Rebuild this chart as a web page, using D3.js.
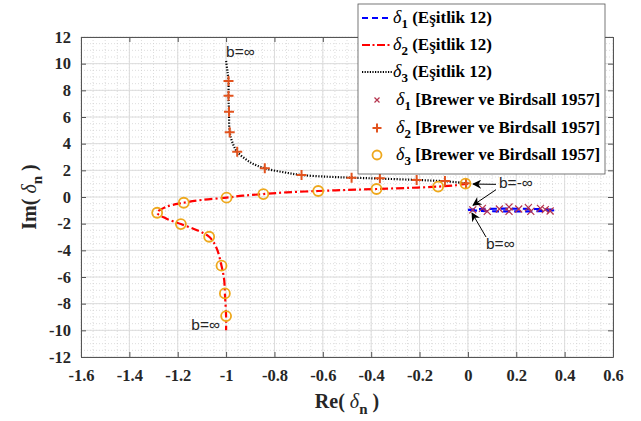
<!DOCTYPE html>
<html><head><meta charset="utf-8">
<script src="https://cdn.jsdelivr.net/npm/d3@7"></script>
<style>body{margin:0;background:#fff}svg{display:block}</style>
</head><body><svg id="c" width="641" height="421"></svg>
<script>
// ---- data ----
const xTicks = [-1.6,-1.4,-1.2,-1,-0.8,-0.6,-0.4,-0.2,0,0.2,0.4,0.6];
const yTicks = [-12,-10,-8,-6,-4,-2,0,2,4,6,8,10,12];
// delta1 (Eşitlik 12) - blue dashed narrow loop
const d1Line = [[0,-0.97],[0.05,-0.9],[0.12,-0.88],[0.2,-0.88],[0.28,-0.9],[0.36,-0.98],[0.3,-1.06],[0.2,-1.08],[0.1,-1.07],[0.03,-1.02],[0,-0.97]];
// delta2 (Eşitlik 12) - red dash-dot
const d2Line = [[0,1.0],[-0.05,0.88],[-0.123,0.78],[-0.25,0.68],[-0.378,0.6],[-0.5,0.53],[-0.619,0.45],[-0.75,0.35],[-0.846,0.22],[-0.93,0.1],[-0.998,-0.05],[-1.1,-0.22],[-1.175,-0.43],[-1.25,-0.75],[-1.285,-1.18],[-1.25,-1.6],[-1.187,-2.03],[-1.12,-2.5],[-1.07,-2.98],[-1.04,-3.8],[-1.019,-5.15],[-1.008,-6.2],[-1.005,-7.23],[-1.0,-8.93],[-1.0,-10.0]];
// delta3 (Eşitlik 12) - black dotted
const d3Line = [[-1.0,10.2],[-0.995,9.5],[-0.99,8.7],[-0.99,7.6],[-0.988,6.4],[-0.985,4.85],[-0.972,4.0],[-0.954,3.4],[-0.9,2.6],[-0.84,2.15],[-0.76,1.85],[-0.688,1.65],[-0.58,1.52],[-0.481,1.45],[-0.364,1.38],[-0.212,1.28],[-0.095,1.18],[-0.008,1.03]];
// Brewer ve Birdsall 1957 points
const d1Pts = [[0.02,-0.97],[0.06,-0.85],[0.08,-1.08],[0.13,-0.9],[0.17,-0.75],[0.17,-1.08],[0.21,-0.9],[0.25,-0.8],[0.26,-1.08],[0.3,-0.85],[0.32,-0.95],[0.34,-1.05]];
const d2Pts = [[-0.99,8.7],[-0.99,7.6],[-0.988,6.4],[-0.985,4.85],[-0.954,3.4],[-0.84,2.15],[-0.688,1.65],[-0.481,1.45],[-0.364,1.4],[-0.212,1.28],[-0.095,1.2],[-0.008,1.03]];
const d3Pts = [[-0.01,1.0],[-0.123,0.78],[-0.378,0.6],[-0.619,0.45],[-0.846,0.22],[-0.998,-0.05],[-1.175,-0.43],[-1.285,-1.18],[-1.187,-2.03],[-1.07,-2.98],[-1.019,-5.15],[-1.005,-7.23],[-1.0,-8.93]];
const legendLabels = [
  {sym:"1", txt:" (Eşitlik 12)"},{sym:"2", txt:" (Eşitlik 12)"},{sym:"3", txt:" (Eşitlik 12)"},
  {sym:"1", txt:" [Brewer ve Birdsall 1957]"},{sym:"2", txt:" [Brewer ve Birdsall 1957]"},{sym:"3", txt:" [Brewer ve Birdsall 1957]"}];

// ---- layout ----
const svg = d3.select("#c");
const L=81, R=613, T=37, B=357;
const x = d3.scaleLinear().domain([-1.6,0.6]).range([L,R]);
const y = d3.scaleLinear().domain([-12,12]).range([B,T]);
const serif = "'Liberation Serif','Times New Roman',serif";
const sans = "'Liberation Sans',Arial,sans-serif";

// minor grid
const xMinor = d3.range(-1.6,0.6001,0.05).map(v=>+v.toFixed(3));
const yMinor = d3.range(-12,12.001,0.5);
const g = svg.append("g");
g.selectAll(".mx").data(xMinor).join("line").attr("x1",d=>x(d)).attr("x2",d=>x(d)).attr("y1",T).attr("y2",B)
 .attr("stroke","#cfcfcf").attr("stroke-width",0.7).attr("stroke-dasharray","1,2");
g.selectAll(".my").data(yMinor).join("line").attr("y1",d=>y(d)).attr("y2",d=>y(d)).attr("x1",L).attr("x2",R)
 .attr("stroke","#cfcfcf").attr("stroke-width",0.7).attr("stroke-dasharray","1,2");
// major grid
g.selectAll(".gx").data(xTicks).join("line").attr("x1",d=>x(d)).attr("x2",d=>x(d)).attr("y1",T).attr("y2",B)
 .attr("stroke","#dcdcdc").attr("stroke-width",1);
g.selectAll(".gy").data(yTicks).join("line").attr("y1",d=>y(d)).attr("y2",d=>y(d)).attr("x1",L).attr("x2",R)
 .attr("stroke","#dcdcdc").attr("stroke-width",1);

// axes
const fmt = v => String(+v.toFixed(1));
const ax = svg.append("g").attr("transform",`translate(0,${B})`).call(d3.axisBottom(x).tickValues(xTicks).tickFormat(fmt).tickSizeInner(-5).tickSizeOuter(0).tickPadding(9));
const ay = svg.append("g").attr("transform",`translate(${L},0)`).call(d3.axisLeft(y).tickValues(yTicks).tickFormat(fmt).tickSizeInner(-5).tickSizeOuter(0).tickPadding(9));
svg.append("g").attr("transform",`translate(0,${T})`).call(d3.axisTop(x).tickValues(xTicks).tickFormat("").tickSizeInner(-5).tickSizeOuter(0));
svg.append("g").attr("transform",`translate(${R},0)`).call(d3.axisRight(y).tickValues(yTicks).tickFormat("").tickSizeInner(-5).tickSizeOuter(0));
svg.selectAll(".domain").attr("stroke","#555");
svg.selectAll(".tick line").attr("stroke","#555");
svg.selectAll(".tick text").attr("font-family",serif).attr("font-weight","bold").attr("font-size",16.5).attr("fill","#262626");
ax.selectAll(".tick text").attr("dy","0.9em");
ay.selectAll(".tick text").attr("dx","-1");

// axis labels
const xl = svg.append("text").attr("x",(L+R)/2).attr("y",408).attr("text-anchor","middle")
  .attr("font-family",serif).attr("font-weight","bold").attr("font-size",20).attr("fill","#262626");
xl.append("tspan").text("Re( ");
xl.append("tspan").attr("font-style","italic").attr("font-weight","normal").text("δ");
xl.append("tspan").attr("font-size",15).attr("dy",6).text("n");
xl.append("tspan").attr("dy",-6).text(" )");
const yl = svg.append("text").attr("transform",`translate(36,${(T+B)/2}) rotate(-90)`).attr("text-anchor","middle")
  .attr("font-family",serif).attr("font-weight","bold").attr("font-size",20).attr("fill","#262626");
yl.append("tspan").text("Im( ");
yl.append("tspan").attr("font-style","italic").attr("font-weight","normal").text("δ");
yl.append("tspan").attr("font-size",15).attr("dy",6).text("n");
yl.append("tspan").attr("dy",-6).text(" )");

// lines
const line = d3.line().x(d=>x(d[0])).y(d=>y(d[1])).curve(d3.curveCatmullRom.alpha(0.5));
const plot = svg.append("g");
plot.append("path").attr("d",line(d3Line)).attr("fill","none").attr("stroke","#000").attr("stroke-width",2.2).attr("stroke-dasharray","1.2,1.6");
plot.append("path").attr("d",line(d2Line)).attr("fill","none").attr("stroke","#ff0000").attr("stroke-width",2.2).attr("stroke-dasharray","8,3,2,3");
plot.append("path").attr("d",line(d1Line)).attr("fill","none").attr("stroke","#0000ff").attr("stroke-width",2.2).attr("stroke-dasharray","7,4");

// markers
const crossPath = s => `M${-s},${-s}L${s},${s}M${-s},${s}L${s},${-s}`;
const plusPath = s => `M${-s},0L${s},0M0,${-s}L0,${s}`;
plot.selectAll(".m1").data(d1Pts).join("path").attr("transform",d=>`translate(${x(d[0])},${y(d[1])})`)
  .attr("d",crossPath(3.5)).attr("stroke","#b5334d").attr("stroke-width",1.2).attr("fill","none");
plot.selectAll(".m2").data(d2Pts).join("path").attr("transform",d=>`translate(${x(d[0])},${y(d[1])})`)
  .attr("d",plusPath(5)).attr("stroke","#e2531e").attr("stroke-width",2).attr("fill","none");
plot.selectAll(".m3").data(d3Pts).join("circle").attr("cx",d=>x(d[0])).attr("cy",d=>y(d[1])).attr("r",5)
  .attr("stroke","#eea81c").attr("stroke-width",1.8).attr("fill","none");

// annotations
const defs = svg.append("defs");
defs.append("marker").attr("id","ah").attr("viewBox","0 0 10 10").attr("refX",9).attr("refY",5)
  .attr("markerWidth",9).attr("markerHeight",9).attr("orient","auto").attr("markerUnits","userSpaceOnUse")
  .append("path").attr("d","M0,0L10,5L0,10L3,5Z").attr("fill","#000");
const ann = svg.append("g").attr("font-family",sans).attr("font-size",15.5).attr("fill","#262626");
ann.append("text").attr("x",x(-1)).attr("y",y(10.5)).text("b=∞");
ann.append("text").attr("x",x(-1)-6).attr("y",y(-9.95)).attr("text-anchor","end").text("b=∞");
ann.append("text").attr("x",499).attr("y",y(0.7)).text("b=-∞");
ann.append("text").attr("x",486).attr("y",y(-3.9)).text("b=∞");
const arrows = [[[496,y(0.95)],[473,y(0.97)]],[[496,y(0.55)],[473,y(-0.62)]],[[486,y(-3.0)],[472,y(-1.2)]]];
svg.selectAll(".arr").data(arrows).join("line").attr("x1",d=>d[0][0]).attr("y1",d=>d[0][1]).attr("x2",d=>d[1][0]).attr("y2",d=>d[1][1])
  .attr("stroke","#000").attr("stroke-width",1).attr("marker-end","url(#ah)");

// legend
const lg = svg.append("g");
lg.append("rect").attr("x",358).attr("y",4).attr("width",247).attr("height",170).attr("fill","#fff").attr("stroke","#555").attr("stroke-width",0.8);
const rowY = [18,45,72,100,128,155];
const styles = [
  {c:"#0000ff",dash:"6,4"},{c:"#ff0000",dash:"8,2.5,2,2.5"},{c:"#000",dash:"1.2,1.4"}];
styles.forEach((s,i)=>{
  lg.append("line").attr("x1",362).attr("x2",392).attr("y1",rowY[i]).attr("y2",rowY[i]).attr("stroke",s.c).attr("stroke-width",2.2).attr("stroke-dasharray",s.dash);
});
lg.append("path").attr("transform",`translate(377,${rowY[3]})`).attr("d",crossPath(2.5)).attr("stroke","#b5334d").attr("stroke-width",1.2);
lg.append("path").attr("transform",`translate(377,${rowY[4]})`).attr("d",plusPath(4.5)).attr("stroke","#e2531e").attr("stroke-width",2);
lg.append("circle").attr("cx",377).attr("cy",rowY[5]).attr("r",4.5).attr("stroke","#eea81c").attr("stroke-width",1.8).attr("fill","none");
legendLabels.forEach((d,i)=>{
  const t = lg.append("text").attr("x",i<3?393:396).attr("y",rowY[i]+5).attr("font-family",serif).attr("font-size",17).attr("font-weight","bold").attr("fill","#000");
  t.append("tspan").attr("font-style","italic").attr("font-weight","normal").attr("font-size",18).text("δ");
  t.append("tspan").attr("font-size",13).attr("dy",5).text(d.sym);
  t.append("tspan").attr("dy",-5).text(d.txt);
});
</script></body></html>
